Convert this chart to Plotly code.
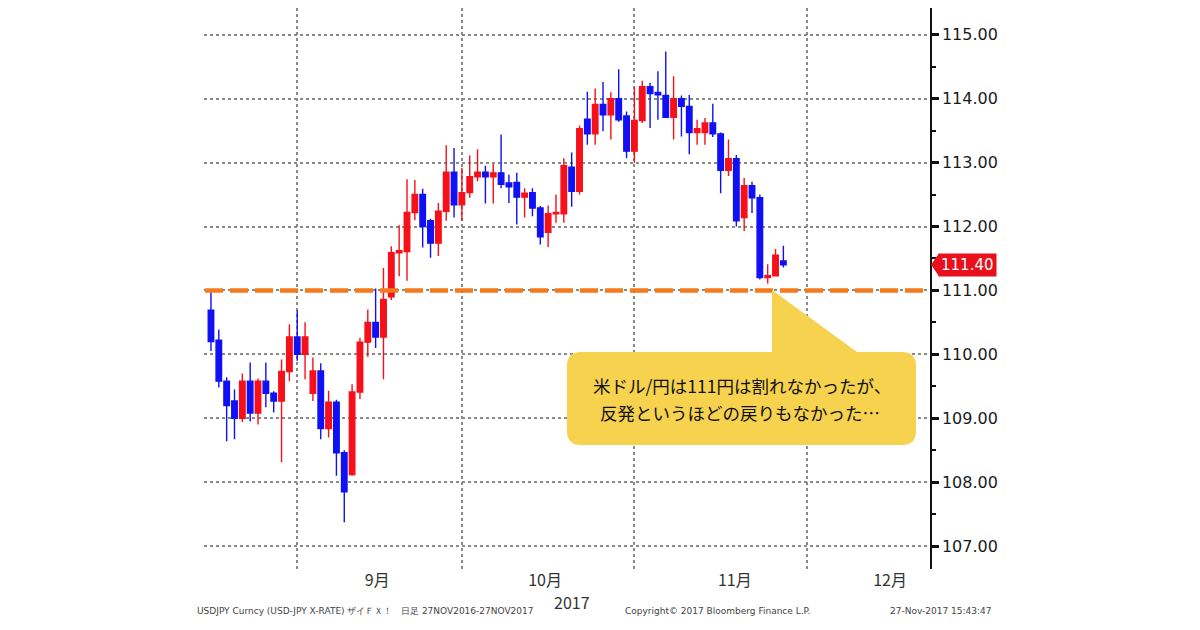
from plotly import graph_objects as go

# USD/JPY daily candles
dates = [
    "2017-08-16", "2017-08-17", "2017-08-18", "2017-08-21", "2017-08-22", "2017-08-23",
    "2017-08-24", "2017-08-25", "2017-08-28", "2017-08-29", "2017-08-30", "2017-08-31",
    "2017-09-01", "2017-09-04", "2017-09-05", "2017-09-06", "2017-09-07", "2017-09-08",
    "2017-09-11", "2017-09-12", "2017-09-13", "2017-09-14", "2017-09-15", "2017-09-18",
    "2017-09-19", "2017-09-20", "2017-09-21", "2017-09-22", "2017-09-25", "2017-09-26",
    "2017-09-27", "2017-09-28", "2017-09-29",
    "2017-10-02", "2017-10-03", "2017-10-04", "2017-10-05", "2017-10-06", "2017-10-09",
    "2017-10-10", "2017-10-11", "2017-10-12", "2017-10-13", "2017-10-16", "2017-10-17",
    "2017-10-18", "2017-10-19", "2017-10-20", "2017-10-23", "2017-10-24", "2017-10-25",
    "2017-10-26", "2017-10-27", "2017-10-30", "2017-10-31",
    "2017-11-01", "2017-11-02", "2017-11-03", "2017-11-06", "2017-11-07", "2017-11-08",
    "2017-11-09", "2017-11-10", "2017-11-13", "2017-11-14", "2017-11-15", "2017-11-16",
    "2017-11-17", "2017-11-20", "2017-11-21", "2017-11-22", "2017-11-23", "2017-11-24",
    "2017-11-27",
]

opens = [
    110.69, 110.22, 109.58, 109.27, 109.00, 109.58, 109.08, 109.58, 109.39, 109.27, 109.73, 110.27,
    110.00, 109.39, 109.74, 108.84, 109.25, 108.46, 108.12, 109.41, 110.19, 110.50, 110.27, 110.90,
    111.59, 111.61, 112.22, 112.50, 112.09, 111.74, 112.24, 112.85, 112.34,
    112.53, 112.78, 112.85, 112.78, 112.84, 112.68, 112.69, 112.46, 112.53, 112.29, 111.91, 112.20,
    112.20, 112.93, 112.55, 113.68, 113.45, 113.91, 113.75, 114.00, 113.73, 113.18,
    113.66, 114.19, 114.10, 114.05, 113.71, 114.00, 113.88, 113.47, 113.47, 113.62, 113.45, 112.88,
    113.06, 112.14, 112.64, 112.45, 111.20, 111.23, 111.46,
]
highs = [
    110.97, 110.39, 109.64, 109.45, 109.70, 109.87, 109.62, 109.87, 109.42, 109.92, 110.47, 110.69,
    110.50, 109.95, 109.86, 109.43, 109.29, 108.50, 109.53, 110.26, 110.70, 111.03, 111.35, 111.69,
    112.02, 112.74, 112.73, 112.59, 112.12, 112.37, 113.27, 113.23, 112.92,
    113.11, 113.21, 112.95, 112.98, 113.44, 112.81, 112.84, 112.60, 112.60, 112.32, 112.33, 112.50,
    113.07, 113.16, 113.58, 114.11, 114.16, 114.26, 114.10, 114.46, 113.80, 114.18,
    114.28, 114.25, 114.43, 114.74, 114.35, 114.05, 114.06, 113.67, 113.70, 113.92, 113.47, 113.36,
    113.12, 112.76, 112.70, 112.50, 111.41, 111.65, 111.70,
]
lows = [
    110.05, 109.48, 108.64, 108.67, 108.94, 108.95, 108.90, 109.17, 109.09, 108.31, 109.58, 109.90,
    109.61, 109.27, 108.67, 108.70, 108.10, 107.37, 108.10, 109.30, 109.96, 110.10, 109.61, 110.85,
    111.22, 111.15, 112.10, 111.67, 111.51, 111.54, 112.09, 112.14, 112.09,
    112.45, 112.71, 112.36, 112.36, 112.60, 112.37, 112.03, 112.14, 112.16, 111.72, 111.68, 112.06,
    112.06, 112.31, 112.50, 113.28, 113.28, 113.49, 113.36, 113.64, 113.07, 113.00,
    113.62, 113.54, 113.67, 113.70, 113.36, 113.41, 113.13, 113.28, 113.28, 113.40, 112.52, 112.79,
    112.00, 111.93, 112.21, 111.17, 111.11, 111.22, 111.36,
]
closes = [
    110.20, 109.58, 109.20, 109.00, 109.58, 109.08, 109.58, 109.39, 109.27, 109.73, 110.27, 110.00,
    110.27, 109.74, 108.84, 109.25, 108.46, 107.85, 109.41, 110.19, 110.50, 110.27, 110.86, 111.59,
    111.62, 112.22, 112.50, 112.00, 111.74, 112.24, 112.85, 112.34, 112.53,
    112.78, 112.85, 112.78, 112.84, 112.66, 112.62, 112.46, 112.52, 112.29, 111.84, 112.20, 112.22,
    112.95, 112.55, 113.53, 113.45, 113.91, 113.75, 114.00, 113.67, 113.18, 113.66,
    114.19, 114.08, 114.06, 113.71, 114.00, 113.88, 113.47, 113.53, 113.62, 113.45, 112.88, 113.06,
    112.09, 112.64, 112.45, 111.20, 111.23, 111.55, 111.40,
]

support_level = 111.0
month_ends = ["2017-08-31", "2017-09-29", "2017-10-31", "2017-11-30"]
month_ticks = ["2017-09-14 04:48", "2017-10-13 14:24", "2017-11-16 19:12", "2017-12-14 14:24"]
month_labels = ["9月", "10月", "11月", "12月"]
price_ticks = [107, 108, 109, 110, 111, 112, 113, 114, 115]

# the page has an 8px body margin, so figure coords = screen coords - 8
OFF = 8
W, H = 1200, 630
L, R, T, B = 196, 278, 0, 69
PW, PH = W - L - R, H - T - B


def px(x):
    # screen x -> paper x
    return (x - OFF - L) / PW


def py(y):
    # screen y -> paper y
    return (H - B - (y - OFF)) / PH


RED = "#f5101a"
BLUE = "#1010f5"
JP = "Noto Sans CJK JP"

fig = go.Figure()
fig.add_trace(go.Candlestick(
    x=dates, open=opens, high=highs, low=lows, close=closes,
    increasing=dict(line=dict(color=RED, width=1.4), fillcolor=RED),
    decreasing=dict(line=dict(color=BLUE, width=1.4), fillcolor=BLUE),
    whiskerwidth=0, showlegend=False, hoverinfo="skip",
))

# support line at 111
fig.add_shape(type="line", xref="paper", yref="y",
              x0=px(205), x1=px(926), y0=support_level, y1=support_level,
              line=dict(color="#f47a1c", width=4.5, dash="18px,7px"))

# speech bubble
x0, x1, y0, y1, r = 567, 916, 352, 445, 14
pts = (
    f"M {px(x0 + r)},{py(y0)} L {px(772)},{py(y0)} L {px(772)},{py(290)} "
    f"L {px(857)},{py(y0)} L {px(x1 - r)},{py(y0)} "
    f"Q {px(x1)},{py(y0)} {px(x1)},{py(y0 + r)} L {px(x1)},{py(y1 - r)} "
    f"Q {px(x1)},{py(y1)} {px(x1 - r)},{py(y1)} L {px(x0 + r)},{py(y1)} "
    f"Q {px(x0)},{py(y1)} {px(x0)},{py(y1 - r)} L {px(x0)},{py(y0 + r)} "
    f"Q {px(x0)},{py(y0)} {px(x0 + r)},{py(y0)} Z"
)
fig.add_shape(type="path", xref="paper", yref="paper", path=pts,
              fillcolor="#f6d24e", line=dict(width=0), layer="above")

fig.add_annotation(xref="paper", yref="paper", x=px(742), y=py(385),
                   xanchor="center", yanchor="middle",
                   text="米ドル/円は111円は割れなかったが、", showarrow=False,
                   font=dict(family=JP, size=17.5, color="#111"))
fig.add_annotation(xref="paper", yref="paper", x=px(740), y=py(412),
                   xanchor="center", yanchor="middle",
                   text="反発というほどの戻りもなかった…", showarrow=False,
                   font=dict(family=JP, size=17.5, color="#111"))

# last price tag
last = closes[-1]
fig.add_shape(type="path", xref="paper", yref="y",
              path=f"M {px(931)},{last} L {px(939)},{last + 0.18} L {px(939)},{last - 0.18} Z",
              fillcolor="#e8101c", line=dict(width=0))
fig.add_annotation(xref="paper", yref="y", x=px(938), y=last, xanchor="left",
                   text=f"{last:.2f}", showarrow=False, bgcolor="#e8101c", borderpad=2,
                   font=dict(family="DejaVu Sans", size=15, color="white"))

# year under the month labels
fig.add_annotation(xref="paper", yref="paper", x=px(572), y=py(602),
                   xanchor="center", yanchor="middle",
                   text="2017", showarrow=False,
                   font=dict(family=JP, size=16, color="#333"))

# footer
foot = dict(family="DejaVu Sans", size=9, color="#444")
fig.add_annotation(xref="paper", yref="paper", x=px(195), y=py(618), xanchor="left",
                   text="USDJPY Curncy (USD-JPY X-RATE) ザイＦＸ！   日足 27NOV2016-27NOV2017",
                   showarrow=False, font=foot)
fig.add_annotation(xref="paper", yref="paper", x=px(623), y=py(618), xanchor="left",
                   text="Copyright© 2017 Bloomberg Finance L.P.", showarrow=False, font=foot)
fig.add_annotation(xref="paper", yref="paper", x=px(993), y=py(618), xanchor="right",
                   text="27-Nov-2017 15:43:47", showarrow=False, font=foot)

fig.update_xaxes(
    type="date",
    rangebreaks=[dict(bounds=["sat", "mon"])],
    range=["2017-08-15 02:40", "2017-12-21 16:48"],
    rangeslider_visible=False,
    tickmode="array", tickvals=month_ticks, ticktext=month_labels,
    tickfont=dict(family=JP, size=16, color="#333"),
    showgrid=False, zeroline=False, showline=False, ticks="",
    minor=dict(tickmode="array", tickvals=month_ends, showgrid=True,
               gridcolor="#8a8a8a", griddash="dot", gridwidth=1.5, ticks=""),
)
fig.update_yaxes(
    side="right", range=[106.64, 115.42],
    tickmode="array", tickvals=price_ticks, tickformat=".2f",
    tickfont=dict(family="DejaVu Sans", size=16, color="#1a1a1a"),
    showgrid=True, gridcolor="#8a8a8a", griddash="dot", gridwidth=1.5,
    showline=True, linecolor="#111", linewidth=1.5,
    ticks="outside", ticklen=7, tickwidth=3, tickcolor="#111",
    minor=dict(dtick=0.5, ticks="outside", ticklen=4, tickwidth=1.5, tickcolor="#111", showgrid=False),
    zeroline=False,
)

fig.update_layout(
    width=W, height=H,
    margin=dict(l=L, r=R, t=T, b=B),
    paper_bgcolor="white", plot_bgcolor="white",
    boxgap=0.0,
    showlegend=False,
)

fig.write_html("out.html")
